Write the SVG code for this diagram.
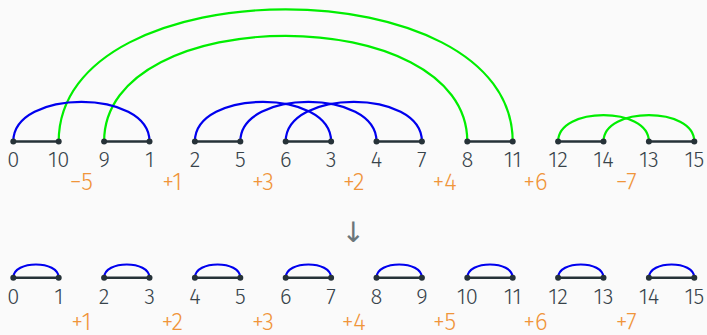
<svg xmlns="http://www.w3.org/2000/svg" width="707" height="335" viewBox="0 0 707 335">
<style>
.bg{fill:#fafafa}
.seg{stroke:#263238;stroke-width:2.5;fill:none}
.dot{fill:#263238}
.blue{stroke:#0000ee;stroke-width:2.2;fill:none}
.green{stroke:#00ee00;stroke-width:2.2;fill:none}
.lbl{font-family:"Fira Sans","Open Sans","Noto Sans",sans-serif;font-size:22px;font-weight:300;fill:#37434a;text-anchor:middle}
.delta{font-family:"Fira Sans","Open Sans","Noto Sans",sans-serif;font-size:24px;font-weight:300;fill:#f0953a;text-anchor:middle}
.arr{font-family:"DejaVu Sans",sans-serif;font-size:28px;fill:#6b767b;text-anchor:middle}
</style>
<rect class="bg" x="0" y="0" width="707" height="335"/>
<g id="connectors">
  <path class="green" d="M58.7 141.5 C58.7 -34.7 512.7 -34.7 512.7 141.5"/>
  <path class="green" d="M104.1 141.5 C104.1 0.6 467.3 0.6 467.3 141.5"/>
  <path class="blue" d="M13.3 141.5 C13.3 88.7 149.5 88.7 149.5 141.5"/>
  <path class="blue" d="M194.9 141.5 C194.9 88.7 331.1 88.7 331.1 141.5"/>
  <path class="blue" d="M240.3 141.5 C240.3 88.7 376.5 88.7 376.5 141.5"/>
  <path class="blue" d="M285.7 141.5 C285.7 88.7 421.9 88.7 421.9 141.5"/>
  <path class="green" d="M558.1 141.5 C558.1 106.3 648.9 106.3 648.9 141.5"/>
  <path class="green" d="M603.5 141.5 C603.5 106.3 694.3 106.3 694.3 141.5"/>
  <path class="blue" d="M13.3 277.7 C13.3 260.1 58.7 260.1 58.7 277.7"/>
  <path class="blue" d="M104.1 277.7 C104.1 260.1 149.5 260.1 149.5 277.7"/>
  <path class="blue" d="M194.9 277.7 C194.9 260.1 240.3 260.1 240.3 277.7"/>
  <path class="blue" d="M285.7 277.7 C285.7 260.1 331.1 260.1 331.1 277.7"/>
  <path class="blue" d="M376.5 277.7 C376.5 260.1 421.9 260.1 421.9 277.7"/>
  <path class="blue" d="M467.3 277.7 C467.3 260.1 512.7 260.1 512.7 277.7"/>
  <path class="blue" d="M558.1 277.7 C558.1 260.1 603.5 260.1 603.5 277.7"/>
  <path class="blue" d="M648.9 277.7 C648.9 260.1 694.3 260.1 694.3 277.7"/>
</g>
<g id="top-pairs">
  <g id="t01"><line class="seg" x1="13.3" y1="141.5" x2="58.7" y2="141.5"/><circle class="dot" cx="13.3" cy="141.5" r="3"/><circle class="dot" cx="58.7" cy="141.5" r="3"/><text class="lbl" x="13.3" y="167">0</text><text class="lbl" x="58.7" y="167">10</text></g>
  <g id="t23"><line class="seg" x1="104.1" y1="141.5" x2="149.5" y2="141.5"/><circle class="dot" cx="104.1" cy="141.5" r="3"/><circle class="dot" cx="149.5" cy="141.5" r="3"/><text class="lbl" x="104.1" y="167">9</text><text class="lbl" x="149.5" y="167">1</text></g>
  <g id="t45"><line class="seg" x1="194.9" y1="141.5" x2="240.3" y2="141.5"/><circle class="dot" cx="194.9" cy="141.5" r="3"/><circle class="dot" cx="240.3" cy="141.5" r="3"/><text class="lbl" x="194.9" y="167">2</text><text class="lbl" x="240.3" y="167">5</text></g>
  <g id="t67"><line class="seg" x1="285.7" y1="141.5" x2="331.1" y2="141.5"/><circle class="dot" cx="285.7" cy="141.5" r="3"/><circle class="dot" cx="331.1" cy="141.5" r="3"/><text class="lbl" x="285.7" y="167">6</text><text class="lbl" x="331.1" y="167">3</text></g>
  <g id="t89"><line class="seg" x1="376.5" y1="141.5" x2="421.9" y2="141.5"/><circle class="dot" cx="376.5" cy="141.5" r="3"/><circle class="dot" cx="421.9" cy="141.5" r="3"/><text class="lbl" x="376.5" y="167">4</text><text class="lbl" x="421.9" y="167">7</text></g>
  <g id="t1011"><line class="seg" x1="467.3" y1="141.5" x2="512.7" y2="141.5"/><circle class="dot" cx="467.3" cy="141.5" r="3"/><circle class="dot" cx="512.7" cy="141.5" r="3"/><text class="lbl" x="467.3" y="167">8</text><text class="lbl" x="512.7" y="167">11</text></g>
  <g id="t1213"><line class="seg" x1="558.1" y1="141.5" x2="603.5" y2="141.5"/><circle class="dot" cx="558.1" cy="141.5" r="3"/><circle class="dot" cx="603.5" cy="141.5" r="3"/><text class="lbl" x="558.1" y="167">12</text><text class="lbl" x="603.5" y="167">14</text></g>
  <g id="t1415"><line class="seg" x1="648.9" y1="141.5" x2="694.3" y2="141.5"/><circle class="dot" cx="648.9" cy="141.5" r="3"/><circle class="dot" cx="694.3" cy="141.5" r="3"/><text class="lbl" x="648.9" y="167">13</text><text class="lbl" x="694.3" y="167">15</text></g>
</g>
<g id="top-deltas">
  <text class="delta" x="81.4" y="190">−5</text>
  <text class="delta" x="172.2" y="190">+1</text>
  <text class="delta" x="263" y="190">+3</text>
  <text class="delta" x="353.8" y="190">+2</text>
  <text class="delta" x="444.6" y="190">+4</text>
  <text class="delta" x="535.4" y="190">+6</text>
  <text class="delta" x="626.2" y="190">−7</text>
</g>
<g id="arrow"><text class="arr" x="353.3" y="242">↓</text></g>
<g id="bottom-pairs">
  <g id="b01"><line class="seg" x1="13.3" y1="277.7" x2="58.7" y2="277.7"/><circle class="dot" cx="13.3" cy="277.7" r="3"/><circle class="dot" cx="58.7" cy="277.7" r="3"/><text class="lbl" x="13.3" y="303.5">0</text><text class="lbl" x="58.7" y="303.5">1</text></g>
  <g id="b23"><line class="seg" x1="104.1" y1="277.7" x2="149.5" y2="277.7"/><circle class="dot" cx="104.1" cy="277.7" r="3"/><circle class="dot" cx="149.5" cy="277.7" r="3"/><text class="lbl" x="104.1" y="303.5">2</text><text class="lbl" x="149.5" y="303.5">3</text></g>
  <g id="b45"><line class="seg" x1="194.9" y1="277.7" x2="240.3" y2="277.7"/><circle class="dot" cx="194.9" cy="277.7" r="3"/><circle class="dot" cx="240.3" cy="277.7" r="3"/><text class="lbl" x="194.9" y="303.5">4</text><text class="lbl" x="240.3" y="303.5">5</text></g>
  <g id="b67"><line class="seg" x1="285.7" y1="277.7" x2="331.1" y2="277.7"/><circle class="dot" cx="285.7" cy="277.7" r="3"/><circle class="dot" cx="331.1" cy="277.7" r="3"/><text class="lbl" x="285.7" y="303.5">6</text><text class="lbl" x="331.1" y="303.5">7</text></g>
  <g id="b89"><line class="seg" x1="376.5" y1="277.7" x2="421.9" y2="277.7"/><circle class="dot" cx="376.5" cy="277.7" r="3"/><circle class="dot" cx="421.9" cy="277.7" r="3"/><text class="lbl" x="376.5" y="303.5">8</text><text class="lbl" x="421.9" y="303.5">9</text></g>
  <g id="b1011"><line class="seg" x1="467.3" y1="277.7" x2="512.7" y2="277.7"/><circle class="dot" cx="467.3" cy="277.7" r="3"/><circle class="dot" cx="512.7" cy="277.7" r="3"/><text class="lbl" x="467.3" y="303.5">10</text><text class="lbl" x="512.7" y="303.5">11</text></g>
  <g id="b1213"><line class="seg" x1="558.1" y1="277.7" x2="603.5" y2="277.7"/><circle class="dot" cx="558.1" cy="277.7" r="3"/><circle class="dot" cx="603.5" cy="277.7" r="3"/><text class="lbl" x="558.1" y="303.5">12</text><text class="lbl" x="603.5" y="303.5">13</text></g>
  <g id="b1415"><line class="seg" x1="648.9" y1="277.7" x2="694.3" y2="277.7"/><circle class="dot" cx="648.9" cy="277.7" r="3"/><circle class="dot" cx="694.3" cy="277.7" r="3"/><text class="lbl" x="648.9" y="303.5">14</text><text class="lbl" x="694.3" y="303.5">15</text></g>
</g>
<g id="bottom-deltas">
  <text class="delta" x="81.4" y="329.5">+1</text>
  <text class="delta" x="172.2" y="329.5">+2</text>
  <text class="delta" x="263" y="329.5">+3</text>
  <text class="delta" x="353.8" y="329.5">+4</text>
  <text class="delta" x="444.6" y="329.5">+5</text>
  <text class="delta" x="535.4" y="329.5">+6</text>
  <text class="delta" x="626.2" y="329.5">+7</text>
</g>
</svg>
